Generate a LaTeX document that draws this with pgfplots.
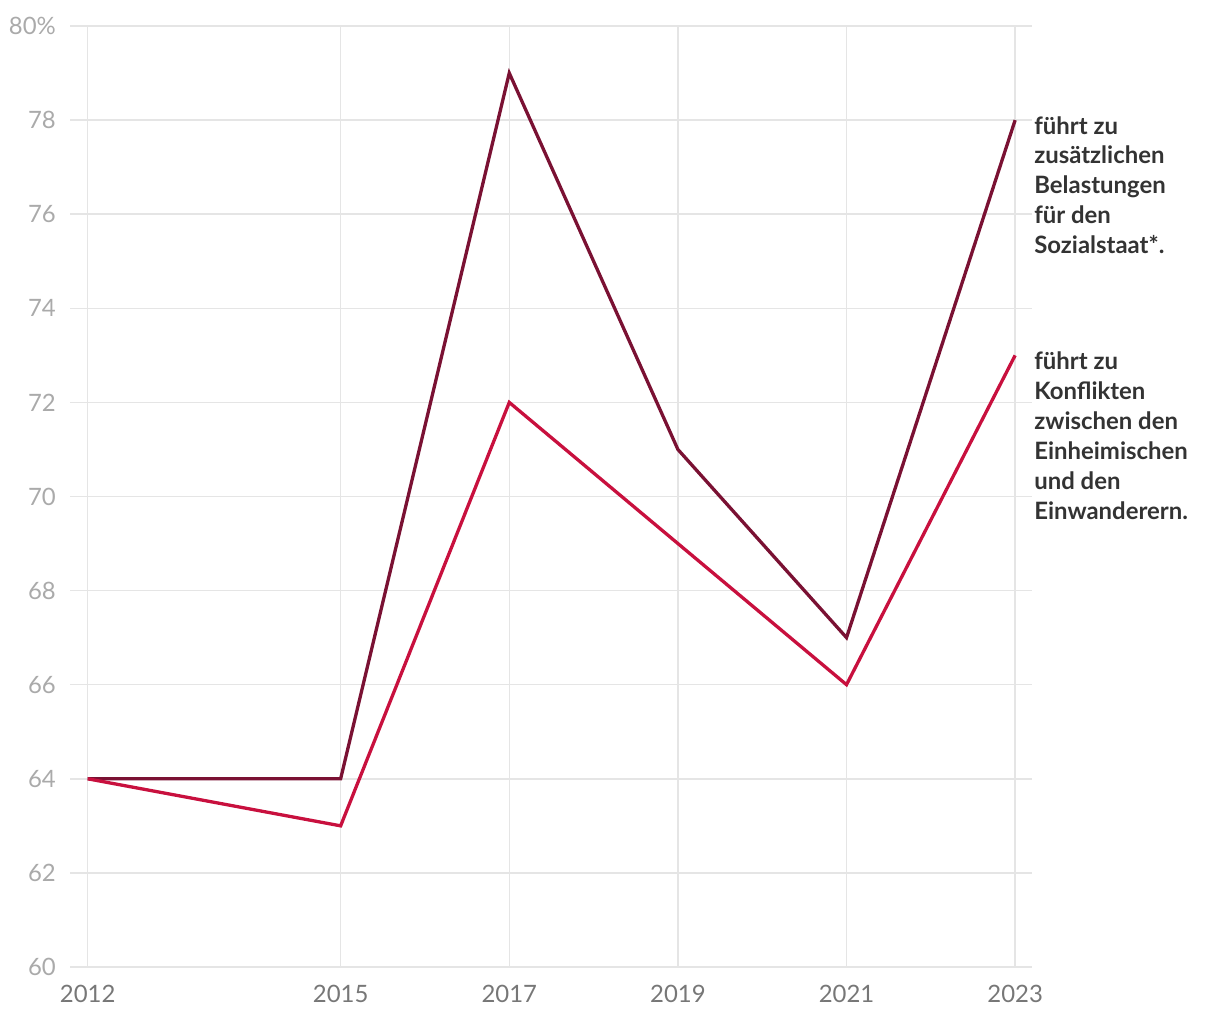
\documentclass[border=0pt]{standalone}
\usepackage{fontspec}
\setmainfont{Lato}
\usepackage{pgfplots}
\pgfplotsset{compat=1.18}
\definecolor{darkline}{HTML}{7A1133}
\definecolor{redline}{HTML}{C8103E}
\definecolor{gridc}{HTML}{E5E5E5}
\definecolor{ylab}{HTML}{AAAAAA}
\definecolor{xlab}{HTML}{777777}
\definecolor{lab}{HTML}{333333}
\begin{document}
\begin{tikzpicture}
\begin{axis}[
  name=ax,
  at={(0,0)}, anchor=south west,
  scale only axis,
  width=962bp, height=941bp,
  xmin=2011.79, xmax=2023.2,
  ymin=60, ymax=80,
  xtick={2012,2015,2017,2019,2021,2023},
  xticklabels={2012,2015,2017,2019,2021,2023},
  ytick={60,62,64,66,68,70,72,74,76,78,80},
  yticklabels={60,62,64,66,68,70,72,74,76,78,80\%},
  grid=major,
  grid style={draw=gridc, line width=1.5bp},
  axis line style={draw=none},
  major tick length=0pt,
  yticklabel style={font=\fontsize{24}{28}\selectfont, text=ylab, inner sep=0pt, anchor=east, xshift=-14bp},
  xticklabel style={font=\fontsize{24}{28}\selectfont, text=xlab, inner sep=0pt, anchor=base, yshift=-35bp},
  clip=false,
]
\addplot[draw=darkline, line width=3.3bp] coordinates {
  (2012,64) (2015,64) (2017,79) (2019,71) (2021,67) (2023,78)
};
\addplot[draw=redline, line width=3.3bp] coordinates {
  (2012,64) (2015,63) (2017,72) (2019,69) (2021,66) (2023,73)
};
\node[anchor=base west, inner sep=0pt, align=left, text=lab,
  font=\fontsize{24}{30}\selectfont\bfseries, xshift=19bp, yshift=-133.5bp]
  at (axis cs:2023,78) {führt zu\\zusätzlichen\\Belastungen\\für den\\Sozialstaat*.};
\node[anchor=base west, inner sep=0pt, align=left, text=lab,
  font=\fontsize{24}{30}\selectfont\bfseries, xshift=19bp, yshift=-164bp]
  at (axis cs:2023,73) {führt zu\\Konflikten\\zwischen den\\Einheimischen\\und den\\Einwanderern.};
\end{axis}
\pgfresetboundingbox
\path (ax.south west) ++(-70bp,-53bp) rectangle ++(1220bp,1020bp);
\end{tikzpicture}
\end{document}
